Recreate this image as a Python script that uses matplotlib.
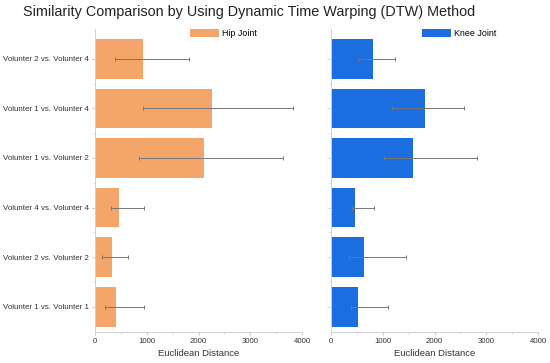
import matplotlib.pyplot as plt
import numpy as np

plt.rcParams['font.family'] = ['Liberation Sans', 'DejaVu Sans']

# data, bottom to top
pairs = ['Volunter 1 vs. Volunter 1', 'Volunter 2 vs. Volunter 2', 'Volunter 4 vs. Volunter 4',
         'Volunter 1 vs. Volunter 2', 'Volunter 1 vs. Volunter 4', 'Volunter 2 vs. Volunter 4']
hip = [406, 323, 458, 2107, 2268, 935]
hip_lo = [193, 130, 316, 845, 928, 387]
hip_hi = [947, 645, 947, 3640, 3834, 1824]
knee = [516, 639, 471, 1575, 1813, 813]
knee_lo = [387, 348, 413, 1026, 1181, 517]
knee_hi = [1110, 1446, 826, 2813, 2562, 1233]
xticks = [0, 1000, 2000, 3000, 4000]

fig = plt.figure(figsize=(5.5, 3.63), dpi=100)
fig.text(249 / 550, 1 - 12 / 363, 'Similarity Comparison by Using Dynamic Time Warping (DTW) Method',
         fontsize=10.4, ha='center', va='center', color='#222222')

panels = [(hip, hip_lo, hip_hi, '#F4A66A', 'Hip Joint', 95),
          (knee, knee_lo, knee_hi, '#1B6EE0', 'Knee Joint', 331)]
y = np.arange(len(pairs))
for vals, lo, hi, col, lab, left in panels:
    ax = fig.add_axes([left / 550, 1 - 331.5 / 363, 207 / 550, 302.5 / 363])
    ax.barh(y, vals, height=0.8, color=col, label=lab)
    v = np.array(vals)
    ax.errorbar(v, y, xerr=[v - np.array(lo), np.array(hi) - v], fmt='none',
                ecolor='#777777', elinewidth=0.7, capsize=1.5, capthick=0.7)
    ax.set_xlim(0, 4000)
    ax.set_ylim(-0.5, 5.6)
    ax.set_xticks(xticks)
    ax.set_xticks(np.arange(500, 4000, 1000), minor=True)
    ax.set_yticks(y)
    ax.set_yticks(np.arange(0.5, 5, 1), minor=True)
    if left < 200:
        ax.set_yticklabels(pairs, fontsize=5.7, color='#333333')
    else:
        ax.set_yticklabels([])
    ax.tick_params(axis='x', labelsize=5.6, colors='#cccccc', labelcolor='#333333', length=2.5, pad=2)
    ax.tick_params(axis='y', colors='#cccccc', labelcolor='#333333', length=2.5, pad=2)
    ax.tick_params(which='minor', colors='#cccccc', length=1.5)
    for s in ['top', 'right']:
        ax.spines[s].set_visible(False)
    for s in ['left', 'bottom']:
        ax.spines[s].set_color('#d0d0d0')
        ax.spines[s].set_linewidth(0.7)
    ax.set_xlabel('Euclidean Distance', fontsize=6.8, color='#333333', labelpad=3)
    ax.legend(loc='upper center', frameon=False, fontsize=6.4, handlelength=3.3,
              handleheight=1.0, handletextpad=0.3, bbox_to_anchor=(0.62, 1.025))

fig.savefig('out.png', dpi=100)
